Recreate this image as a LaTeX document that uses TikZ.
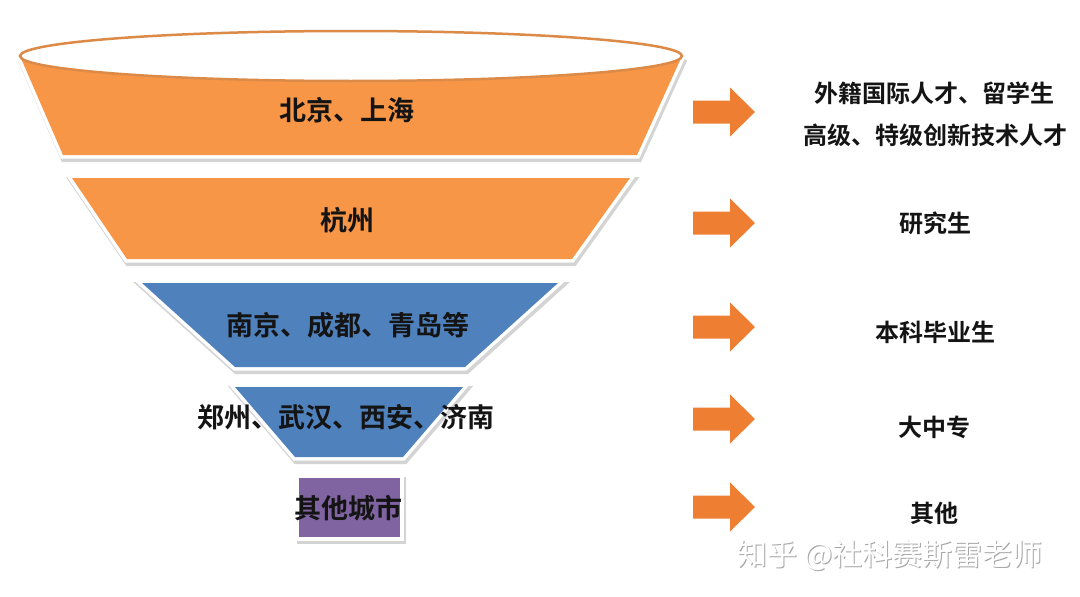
\documentclass[tikz,border=0pt]{standalone}
\usepackage{fontspec}
\newfontfamily\cjk{Noto Sans CJK SC}[BoldFont={Noto Sans CJK SC Bold}]
\definecolor{bandorange}{HTML}{F79646}
\definecolor{bandblue}{HTML}{4F81BD}
\definecolor{bandpurple}{HTML}{8064A2}
\definecolor{arroworange}{HTML}{EE7E32}
\definecolor{rimorange}{HTML}{DC8A48}
\definecolor{inktext}{HTML}{141414}
\tikzset{
  shadowline/.style={draw=black!30, fill=black!30, line width=8pt, line join=miter, miter limit=4, opacity=0.55},
  whiteframe/.style={draw=white, fill=white, line width=7pt, line join=miter, miter limit=4},
  lefttext/.style={font=\cjk\bfseries\fontsize{27}{30}\selectfont, text=inktext, inner sep=0pt},
  righttext/.style={font=\cjk\bfseries\fontsize{24}{27}\selectfont, text=inktext, inner sep=0pt},
  blockarrow/.style={fill=arroworange},
  rim/.style={draw=rimorange, line width=2.5pt, fill=white},
  wmark/.style={font=\cjk\fontsize{30}{33}\selectfont, inner sep=0pt}
}
\newcommand\funnelband[2]{%
  \path[shadowline, shift={(1.5,3)}] #2;
  \path[whiteframe] #2;
  \fill[#1] #2;
}
\newcommand\rightarrowshape[1]{%
  \fill[blockarrow] (693,#1-11.5) -- (730,#1-11.5) -- (730,#1-24.5) -- (755,#1)
    -- (730,#1+24.5) -- (730,#1+11.5) -- (693,#1+11.5) -- cycle;
}
\begin{document}
\begin{tikzpicture}[x=1pt, y=-1pt]
\useasboundingbox (0,0) rectangle (1080,597);
\fill[white] (0,0) rectangle (1080,597);

% funnel bands
\funnelband{bandorange}{(20,56) arc[start angle=180, end angle=360, x radius=331pt, y radius=25pt] -- (637,155) -- (63,155) -- cycle}
\draw[rim] (351,56) ellipse[x radius=331pt, y radius=25pt];
\funnelband{bandorange}{(72,178) -- (630,178) -- (572,259) -- (127,259) -- cycle}
\funnelband{bandblue}{(142,283) -- (558,283) -- (465,367) -- (235,367) -- cycle}
\funnelband{bandblue}{(235,387) -- (463,387) -- (403,457) -- (295,457) -- cycle}
\funnelband{bandpurple}{(299,478) rectangle (400,537)}

% funnel labels
\node[lefttext] (l1) at (347,110) {北京、上海};
\node[lefttext] (l2) at (347,220) {杭州};
\node[lefttext] (l3) at (348,325) {南京、成都、青岛等};
\node[lefttext] (l4) at (346,417) {郑州、武汉、西安、济南};
\node[lefttext] (l5) at (348,508) {其他城市};

% arrows
\rightarrowshape{112}
\rightarrowshape{223}
\rightarrowshape{327}
\rightarrowshape{419}
\rightarrowshape{507}

% right labels
\node[righttext] (r1a) at (934,93) {外籍国际人才、留学生};
\node[righttext] (r1b) at (935,135) {高级、特级创新技术人才};
\node[righttext] (r2) at (935,223) {研究生};
\node[righttext] (r3) at (935,332) {本科毕业生};
\node[righttext] (r4) at (934,427) {大中专};
\node[righttext] (r5) at (934,513) {其他};

% watermark
\node[wmark, text=black!35] (wmshade) at (891.2,556.2) {知乎 @社科赛斯雷老师};
\node[wmark, text=white] (wm) at (890,555) {知乎 @社科赛斯雷老师};
\end{tikzpicture}
\end{document}
